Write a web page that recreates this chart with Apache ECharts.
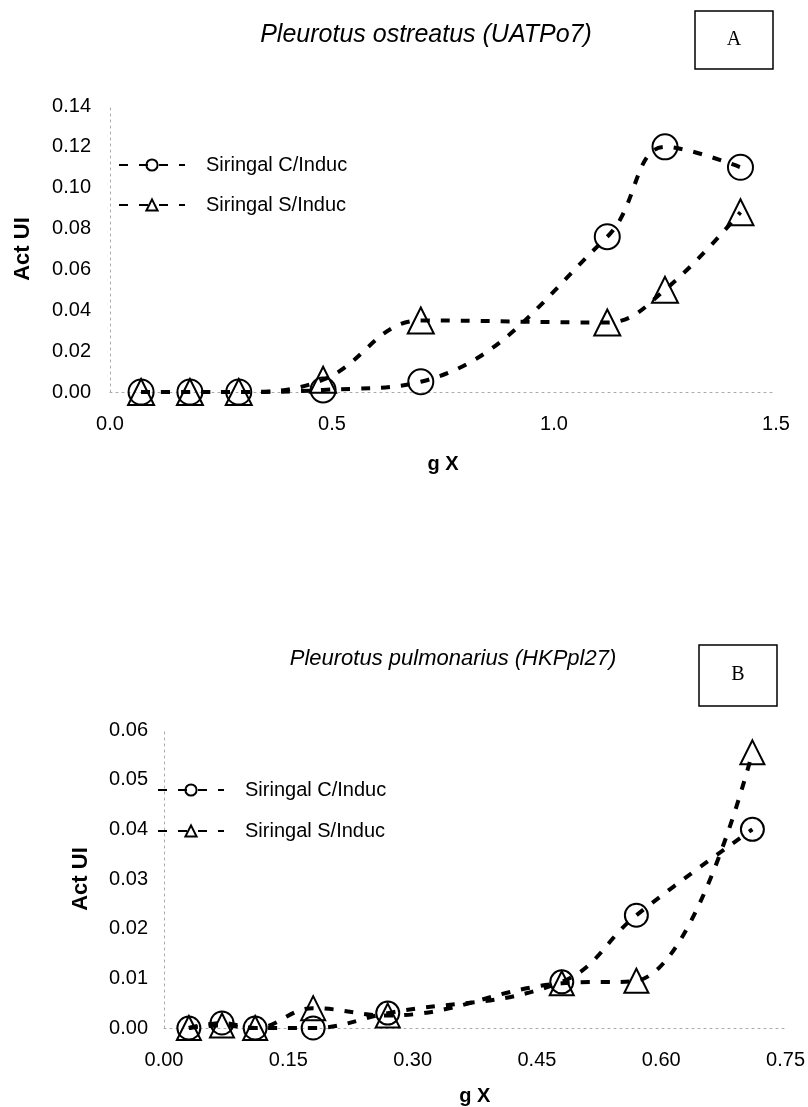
<!DOCTYPE html>
<html>
<head>
<meta charset="utf-8">
<script src="https://cdn.jsdelivr.net/npm/echarts@6/dist/echarts.min.js"></script>
<style>
  html, body { margin: 0; padding: 0; background: #fff; }
  #chart { width: 808px; height: 1107px; }
</style>
</head>
<body>
<div id="chart"></div>
<script>
// Panel A - Pleurotus ostreatus (UATPo7)
const topX = [0.07, 0.18, 0.29, 0.48, 0.70, 1.12, 1.25, 1.42];
const topC = [0, 0, 0, 0.001, 0.005, 0.076, 0.120, 0.110];
const topS = [0, 0, 0, 0.006, 0.035, 0.034, 0.050, 0.088];

// Panel B - Pleurotus pulmonarius (HKPpl27)
const botX = [0.03, 0.07, 0.11, 0.18, 0.27, 0.48, 0.57, 0.71];
const botC = [0, 0.001, 0, 0, 0.003, 0.0093, 0.0227, 0.040];
const botS = [0, 0.0005, 0, 0.004, 0.0025, 0.009, 0.0095, 0.0555];

const nameC = 'Siringal C/Induc';
const nameS = 'Siringal S/Induc';

const font = "'Liberation Sans', Arial, sans-serif";
const pairs = (xs, ys) => xs.map((x, i) => [x, ys[i]]);

function lineSeries(name, symbol, size, xs, ys, idx) {
    return {
        name: name, type: 'line', xAxisIndex: idx, yAxisIndex: idx,
        data: pairs(xs, ys),
        smooth: 0.4,
        symbol: symbol, symbolSize: size,
        lineStyle: { color: '#000', width: 4, type: [9, 11] },
        itemStyle: { color: 'rgba(0,0,0,0)', borderColor: '#000', borderWidth: 2 },
        emphasis: { disabled: true },
        z: 3
    };
}

function valueAxis(opts) {
    return Object.assign({
        type: 'value',
        axisLine: { show: true, onZero: false, lineStyle: { color: '#aaa', type: [2, 4], width: 1 } },
        axisTick: { show: false },
        splitLine: { show: false },
        axisLabel: { color: '#000', fontSize: 20, fontFamily: font }
    }, opts);
}

const chart = echarts.init(document.getElementById('chart'));

chart.setOption({
    animation: false,
    title: [
        { text: 'Pleurotus ostreatus (UATPo7)', left: 421, top: 18, textAlign: 'center',
          textStyle: { fontSize: 25, fontStyle: 'italic', fontWeight: 'normal', color: '#000', fontFamily: font } },
        { text: 'Pleurotus pulmonarius (HKPpl27)', left: 448, top: 643, textAlign: 'center',
          textStyle: { fontSize: 22, fontStyle: 'italic', fontWeight: 'normal', color: '#000', fontFamily: font } }
    ],
    legend: [
        { data: [nameC, nameS], orient: 'vertical', left: 113, top: 150, itemWidth: 66, itemHeight: 14, itemGap: 20,
          selectedMode: false, textStyle: { fontSize: 20, color: '#000', fontFamily: font, padding: [0, 0, 0, 16] } },
        { data: [nameC, nameS], orient: 'vertical', left: 152, top: 775, itemWidth: 66, itemHeight: 14, itemGap: 21,
          selectedMode: false, textStyle: { fontSize: 20, color: '#000', fontFamily: font, padding: [0, 0, 0, 16] } }
    ],
    grid: [
        { left: 110, top: 106, width: 666, height: 286 },
        { left: 164, top: 730, width: 624, height: 298 }
    ],
    xAxis: [
        valueAxis({ gridIndex: 0, min: 0, max: 1.5, interval: 0.5,
            axisLabel: { color: '#000', fontSize: 20, fontFamily: font, margin: 22, formatter: v => v.toFixed(1) },
            name: 'g X', nameLocation: 'middle', nameGap: 62,
            nameTextStyle: { fontSize: 20, fontWeight: 'bold', color: '#000', fontFamily: font } }),
        valueAxis({ gridIndex: 1, min: 0, max: 0.75, interval: 0.15,
            axisLabel: { color: '#000', fontSize: 20, fontFamily: font, margin: 22, formatter: v => v.toFixed(2) },
            name: 'g X', nameLocation: 'middle', nameGap: 58,
            nameTextStyle: { fontSize: 20, fontWeight: 'bold', color: '#000', fontFamily: font } })
    ],
    yAxis: [
        valueAxis({ gridIndex: 0, min: 0, max: 0.14, interval: 0.02,
            axisLabel: { color: '#000', fontSize: 20, fontFamily: font, margin: 19, formatter: v => v.toFixed(2) },
            name: 'Act UI', nameLocation: 'middle', nameGap: 76, nameRotate: 90,
            nameTextStyle: { fontSize: 22, fontWeight: 'bold', color: '#000', fontFamily: font } }),
        valueAxis({ gridIndex: 1, min: 0, max: 0.06, interval: 0.01,
            axisLabel: { color: '#000', fontSize: 20, fontFamily: font, margin: 16, formatter: v => v.toFixed(2) },
            name: 'Act UI', nameLocation: 'middle', nameGap: 72, nameRotate: 90,
            nameTextStyle: { fontSize: 22, fontWeight: 'bold', color: '#000', fontFamily: font } })
    ],
    graphic: [
        { type: 'rect', shape: { x: 695, y: 11, width: 78, height: 58 },
          style: { fill: '#fff', stroke: '#000', lineWidth: 1.5 } },
        { type: 'text', x: 734, y: 40, style: { text: 'A', fill: '#000', font: "20px 'Liberation Serif', serif", align: 'center', verticalAlign: 'middle' } },
        { type: 'rect', shape: { x: 699, y: 645, width: 78, height: 61 },
          style: { fill: '#fff', stroke: '#000', lineWidth: 1.5 } },
        { type: 'text', x: 738, y: 675, style: { text: 'B', fill: '#000', font: "20px 'Liberation Serif', serif", align: 'center', verticalAlign: 'middle' } }
    ],
    series: [
        lineSeries(nameC, 'circle', 25, topX, topC, 0),
        lineSeries(nameS, 'triangle', 26, topX, topS, 0),
        lineSeries(nameC, 'circle', 23, botX, botC, 1),
        lineSeries(nameS, 'triangle', 24, botX, botS, 1)
    ]
});
</script>
</body>
</html>
